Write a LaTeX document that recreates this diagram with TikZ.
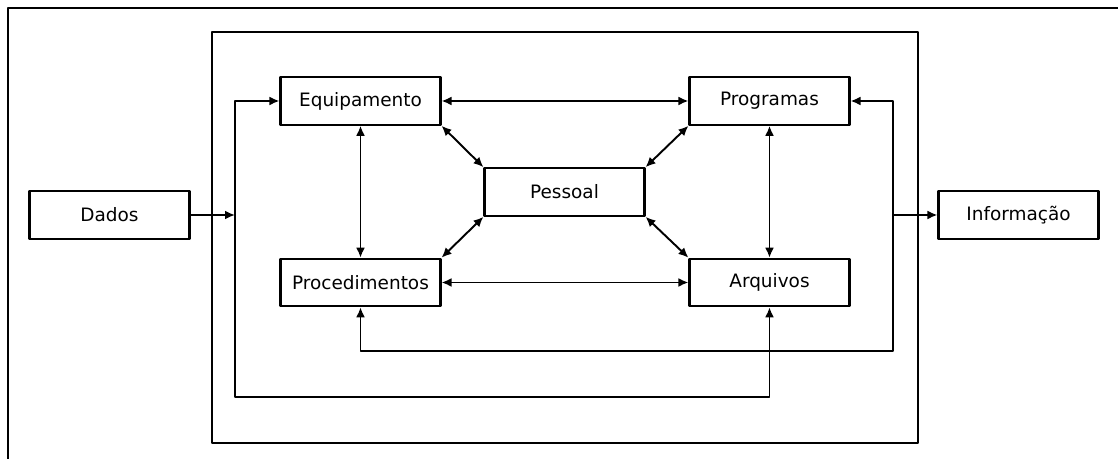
\documentclass[tikz,border=0pt]{standalone}
\usepackage{fontspec}
\setmainfont{DejaVu Sans}
\usetikzlibrary{positioning,arrows.meta}
\tikzset{caixa/.style={draw, line width=1.2pt, minimum width=3.2cm, minimum height=0.95cm, inner sep=0pt}}
\begin{document}
\begin{tikzpicture}[font=\fontsize{10.5}{12}\selectfont, line width=1.1pt, line join=round, >={Latex[length=2mm,width=1.8mm]}]
	\clip (0,0) rectangle (22.36,9.18);
	% molduras
	\draw (0.16,-1) rectangle (24,9.02);
	\draw (4.24,0.32) rectangle (18.36,8.54);
	% caixas
	\node[caixa] (equip) at (7.21,7.16) {Equipamento};
	\node[caixa] (prog) at (15.39,7.16) {Programas};
	\node[caixa] (pessoal) at (11.29,5.34) {Pessoal};
	\node[caixa] (proc) at (7.21,3.53) {Procedimentos};
	\node[caixa] (arq) at (15.39,3.53) {Arquivos};
	\node[caixa] (dados) at (2.19,4.88) {Dados};
	\node[caixa] (info) at (20.37,4.88) {Informação};
	\coordinate (ent) at (4.70,4.88);
	\coordinate (sai) at (17.86,4.88);
	\coordinate (lb) at (4.70,1.24);
	\coordinate (rb) at (17.86,2.16);
	% ligacoes
	\draw[<->] (equip) -- (prog);
	\draw[<->] (proc) -- (arq);
	\draw[<->] (equip) -- (proc);
	\draw[<->] (prog) -- (arq);
	\draw[<->] (equip.south east) -- (pessoal.north west);
	\draw[<->] (prog.south west) -- (pessoal.north east);
	\draw[<->] (proc.north east) -- (pessoal.south west);
	\draw[<->] (arq.north west) -- (pessoal.south east);
	\draw[<->] (equip.west) -| (lb) -| (arq.south);
	\draw[<->] (prog.east) -| (rb) -| (proc.south);
	\draw[->] (dados) -- (ent);
	\draw[->] (sai) -- (info);
\end{tikzpicture}
\end{document}
